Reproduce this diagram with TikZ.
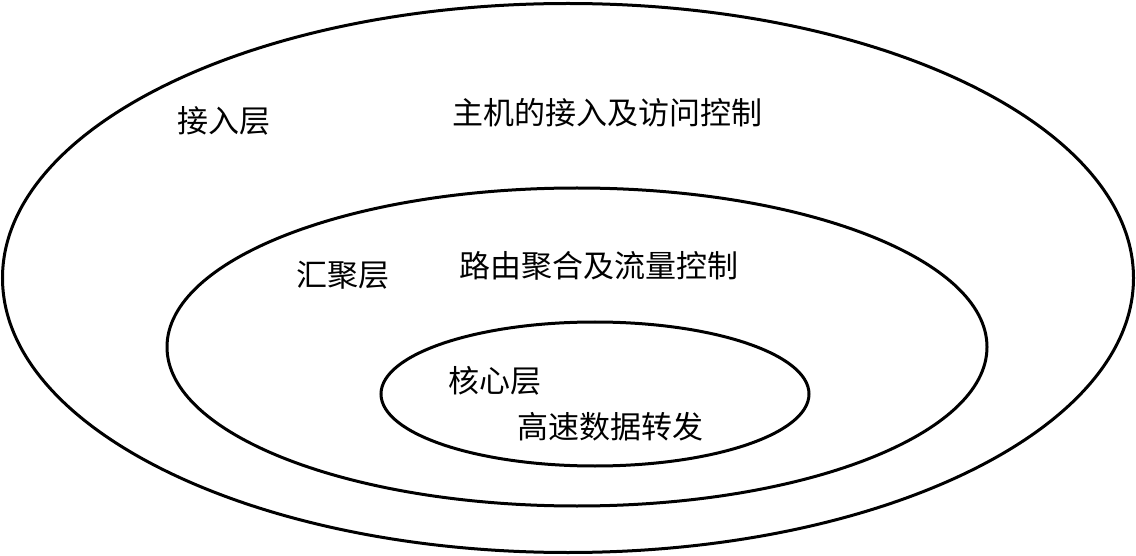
\documentclass[tikz,border=0pt]{standalone}
\usepackage{fontspec}
\setmainfont{Noto Sans CJK SC}
\usetikzlibrary{shapes.geometric}
\tikzset{
	layer/.style={draw,shape=ellipse,inner sep=0pt,line width=3pt},
	lbl/.style={font=\fontsize{31}{36}\selectfont,inner sep=0pt}
}
\begin{document}
\begin{tikzpicture}[x=1pt,y=-1pt]
	\useasboundingbox (0,0) rectangle (1136,556);
	\draw (568,278) node (access) [layer,minimum width=1131pt,minimum height=549pt] {};
	\draw (577,347) node (agg) [layer,minimum width=820pt,minimum height=318pt] {};
	\draw (595,394) node (core) [layer,minimum width=428pt,minimum height=144pt] {};
	\node (accname) [lbl] at (224,121) {接入层};
	\node (accfunc) [lbl] at (607,113) {主机的接入及访问控制};
	\node (aggname) [lbl] at (343,275) {汇聚层};
	\node (aggfunc) [lbl] at (599,266) {路由聚合及流量控制};
	\node (corename) [lbl] at (495,381) {核心层};
	\node (corefunc) [lbl] at (610,427) {高速数据转发};
\end{tikzpicture}
\end{document}
